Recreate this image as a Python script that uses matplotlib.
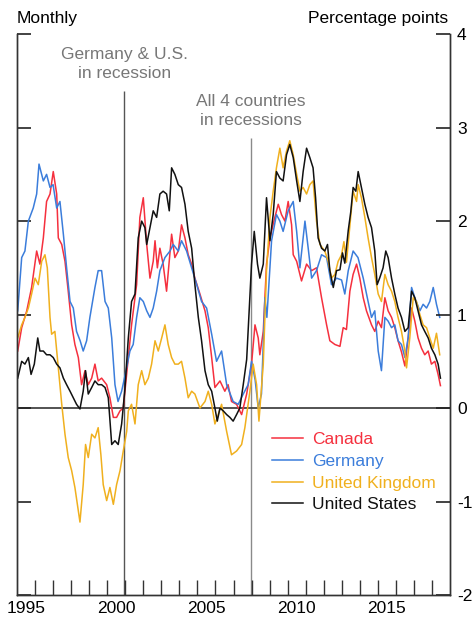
import matplotlib
matplotlib.use("Agg")
from matplotlib import pyplot as plt
from matplotlib.ticker import FixedLocator

plt.rcParams['font.family'] = ['Liberation Sans', 'DejaVu Sans']
plt.rcParams['font.size'] = 12.5

# 数据 (从图上读出来的, 月度, 百分点)
canada_x = [1995.04, 1995.26, 1995.54, 1995.81, 1996.09, 1996.27, 1996.46, 1996.64, 1996.83, 1997.01,
            1997.2, 1997.29, 1997.48, 1997.66, 1997.84, 1998.03, 1998.21, 1998.4, 1998.58, 1998.77,
            1998.95, 1999.14, 1999.32, 1999.5, 1999.69, 1999.97, 2000.15, 2000.34, 2000.52, 2000.71,
            2000.89, 2001.17, 2001.35, 2001.63, 2001.81, 2002.0, 2002.19, 2002.37, 2002.55, 2002.65,
            2002.78, 2002.92, 2003.1, 2003.29, 2003.57, 2003.75, 2003.94, 2004.12, 2004.31, 2004.49,
            2004.68, 2004.86, 2005.14, 2005.42, 2005.6, 2005.79, 2005.97, 2006.25, 2006.52, 2006.7,
            2006.89, 2007.17, 2007.45, 2007.73, 2008.0, 2008.19, 2008.37, 2008.46, 2008.65, 2008.83,
            2009.02, 2009.29, 2009.48, 2009.66, 2009.85, 2010.03, 2010.22, 2010.31, 2010.5, 2010.77,
            2011.05, 2011.33, 2011.6, 2011.88, 2012.16, 2012.34, 2012.62, 2012.9, 2013.08, 2013.26,
            2013.45, 2013.63, 2013.82, 2014.0, 2014.19, 2014.37, 2014.65, 2014.83, 2015.02, 2015.2,
            2015.39, 2015.57, 2015.76, 2015.94, 2016.12, 2016.31, 2016.5, 2016.68, 2016.87, 2017.05,
            2017.23, 2017.42, 2017.6, 2017.79, 2017.97, 2018.16, 2018.34, 2018.47]
canada_y = [0.61, 0.86, 1.04, 1.29, 1.68, 1.54, 1.82, 2.21, 2.29, 2.53,
            2.29, 1.82, 1.75, 1.57, 1.25, 0.89, 0.68, 0.54, 0.25, 0.4,
            0.25, 0.32, 0.47, 0.29, 0.32, 0.25, 0.11, -0.1, -0.1, -0.03,
            0.0, 0.54, 0.89, 1.32, 2.04, 2.25, 1.75, 1.39, 1.57, 1.79,
            1.5, 1.71, 1.54, 1.25, 1.86, 1.61, 1.68, 1.96, 1.82, 1.64,
            1.54, 1.39, 1.22, 1.04, 0.86, 0.54, 0.22, 0.29, 0.18, 0.25,
            0.07, 0.04, -0.07, 0.15, 0.47, 0.89, 0.75, 0.57, 0.82, 1.54,
            1.82, 2.04, 2.18, 2.07, 2.0, 2.21, 1.96, 1.64, 1.57, 1.36,
            1.54, 1.47, 1.5, 1.18, 0.89, 0.72, 0.68, 0.66, 0.86, 0.84,
            1.25, 1.43, 1.54, 1.39, 1.18, 1.04, 0.89, 0.82, 0.93, 0.86,
            1.18, 1.04, 0.97, 0.86, 0.72, 0.6, 0.45, 0.75, 1.07, 0.93,
            0.75, 0.64, 0.57, 0.61, 0.47, 0.5, 0.36, 0.24]

germany_x = [1995.04, 1995.26, 1995.44, 1995.63, 1995.9, 1996.09, 1996.22, 1996.46, 1996.64, 1996.83,
             1997.0, 1997.2, 1997.38, 1997.57, 1997.75, 1997.94, 1998.12, 1998.3, 1998.5, 1998.67,
             1998.86, 1999.04, 1999.32, 1999.5, 1999.69, 1999.88, 2000.06, 2000.25, 2000.43, 2000.6,
             2000.8, 2001.0, 2001.26, 2001.44, 2001.63, 2001.81, 2002.0, 2002.19, 2002.37, 2002.55,
             2002.74, 2002.92, 2003.2, 2003.48, 2003.66, 2003.94, 2004.12, 2004.4, 2004.68, 2004.96,
             2005.23, 2005.51, 2005.79, 2006.06, 2006.34, 2006.62, 2006.98, 2007.26, 2007.54, 2007.81,
             2008.0, 2008.2, 2008.37, 2008.55, 2008.74, 2008.85, 2009.11, 2009.38, 2009.57, 2009.75,
             2010.03, 2010.31, 2010.5, 2010.68, 2010.96, 2011.14, 2011.33, 2011.6, 2011.88, 2012.16,
             2012.43, 2012.71, 2012.99, 2013.17, 2013.36, 2013.63, 2013.9, 2014.19, 2014.46, 2014.65,
             2014.83, 2015.02, 2015.2, 2015.39, 2015.57, 2015.76, 2015.94, 2016.12, 2016.31, 2016.5,
             2016.68, 2016.87, 2017.05, 2017.33, 2017.51, 2017.7, 2017.88, 2018.07, 2018.25, 2018.43]
germany_y = [1.04, 1.61, 1.68, 2.0, 2.14, 2.29, 2.61, 2.43, 2.5, 2.36,
             2.39, 2.14, 2.21, 1.86, 1.5, 1.14, 1.07, 0.82, 0.72, 0.61,
             0.72, 0.97, 1.29, 1.47, 1.47, 1.14, 1.07, 0.75, 0.25, 0.07,
             0.18, 0.36, 0.61, 0.68, 0.97, 1.18, 1.14, 1.04, 0.97, 1.07,
             1.25, 1.47, 1.61, 1.68, 1.75, 1.68, 1.79, 1.68, 1.5, 1.32,
             1.14, 1.07, 0.79, 0.5, 0.61, 0.25, 0.07, 0.04, 0.15, 0.25,
             0.5, 0.3, 0.0, 0.15, 1.18, 0.97, 1.79, 2.07, 2.0, 1.89,
             2.11, 2.21, 1.89, 1.5, 2.0, 1.71, 1.39, 1.47, 1.64, 1.61,
             1.32, 1.39, 1.37, 1.22, 1.47, 1.68, 1.61, 1.39, 1.14, 0.97,
             1.04, 0.61, 0.4, 0.97, 0.93, 0.86, 0.89, 0.72, 0.68, 0.54,
             0.75, 1.29, 1.18, 1.04, 1.11, 1.07, 1.14, 1.29, 1.11, 0.97]

uk_x = [1995.04, 1995.26, 1995.44, 1995.63, 1995.81, 1996.0, 1996.18, 1996.37, 1996.55, 1996.68,
        1996.83, 1996.92, 1997.1, 1997.29, 1997.48, 1997.66, 1997.84, 1998.03, 1998.21, 1998.4,
        1998.49, 1998.67, 1998.8, 1998.95, 1999.14, 1999.32, 1999.5, 1999.65, 1999.78, 1999.97,
        2000.15, 2000.34, 2000.52, 2000.71, 2000.89, 2001.08, 2001.17, 2001.35, 2001.54, 2001.72,
        2001.91, 2002.09, 2002.28, 2002.46, 2002.65, 2002.83, 2003.02, 2003.2, 2003.38, 2003.57,
        2003.75, 2003.94, 2004.12, 2004.31, 2004.49, 2004.68, 2004.86, 2005.14, 2005.42, 2005.6,
        2005.79, 2005.97, 2006.15, 2006.34, 2006.62, 2006.89, 2007.17, 2007.45, 2007.63, 2007.91,
        2008.09, 2008.28, 2008.41, 2008.65, 2008.83, 2009.02, 2009.2, 2009.38, 2009.57, 2009.75,
        2009.94, 2010.12, 2010.31, 2010.5, 2010.68, 2010.86, 2011.05, 2011.23, 2011.41, 2011.6,
        2011.79, 2012.06, 2012.25, 2012.43, 2012.62, 2012.8, 2012.99, 2013.12, 2013.26, 2013.45,
        2013.63, 2013.82, 2013.91, 2014.09, 2014.28, 2014.46, 2014.65, 2014.83, 2015.02, 2015.2,
        2015.39, 2015.57, 2015.76, 2015.94, 2016.12, 2016.31, 2016.5, 2016.59, 2016.77, 2016.96,
        2017.14, 2017.33, 2017.51, 2017.7, 2017.88, 2018.07, 2018.25, 2018.43]
uk_y = [0.75, 0.89, 0.97, 1.07, 1.22, 1.39, 1.32, 1.57, 1.64, 1.5,
        0.97, 0.79, 0.82, 0.43, 0.04, -0.28, -0.53, -0.67, -0.85, -1.1,
        -1.22, -0.82, -0.39, -0.53, -0.28, -0.32, -0.21, -0.5, -0.82, -0.99,
        -0.85, -1.03, -0.82, -0.67, -0.46, -0.25, -0.03, 0.04, -0.17, 0.25,
        0.4, 0.25, 0.32, 0.47, 0.72, 0.61, 0.75, 0.89, 0.68, 0.54,
        0.47, 0.47, 0.5, 0.32, 0.11, 0.18, 0.15, 0.0, 0.07, 0.18,
        0.04, -0.17, -0.07, 0.04, -0.25, -0.5, -0.46, -0.39, -0.21, 0.18,
        0.47, 0.25, -0.14, 0.47, 1.47, 2.04, 2.32, 2.57, 2.78, 2.57,
        2.75, 2.86, 2.71, 2.5, 2.32, 2.36, 2.29, 2.39, 2.43, 2.0,
        1.75, 1.68, 1.57, 1.39, 1.43, 1.57, 1.64, 1.78, 1.56, 1.95,
        2.32, 2.21, 2.39, 2.25, 2.04, 1.82, 1.61, 1.43, 1.22, 1.14,
        1.43, 1.32, 1.25, 1.14, 0.97, 0.82, 0.61, 0.43, 0.75, 1.18,
        1.14, 1.0, 0.89, 0.86, 0.75, 0.64, 0.8, 0.57]

us_x = [1995.04, 1995.26, 1995.44, 1995.63, 1995.78, 1995.96, 1996.15, 1996.27, 1996.46, 1996.64,
        1996.83, 1997.01, 1997.2, 1997.38, 1997.57, 1997.75, 1997.94, 1998.12, 1998.3, 1998.49,
        1998.67, 1998.8, 1998.95, 1999.14, 1999.32, 1999.5, 1999.69, 1999.88, 2000.06, 2000.25,
        2000.43, 2000.61, 2000.8, 2000.98, 2001.17, 2001.35, 2001.54, 2001.72, 2001.91, 2002.09,
        2002.19, 2002.37, 2002.55, 2002.74, 2002.92, 2003.1, 2003.29, 2003.44, 2003.57, 2003.75,
        2003.94, 2004.12, 2004.31, 2004.49, 2004.68, 2004.86, 2005.05, 2005.23, 2005.42, 2005.6,
        2005.79, 2005.97, 2006.1, 2006.25, 2006.43, 2006.62, 2006.8, 2006.98, 2007.17, 2007.35,
        2007.54, 2007.73, 2007.85, 2008.0, 2008.15, 2008.33, 2008.46, 2008.65, 2008.83, 2009.02,
        2009.2, 2009.38, 2009.57, 2009.75, 2009.94, 2010.12, 2010.31, 2010.5, 2010.68, 2010.86,
        2011.05, 2011.23, 2011.41, 2011.55, 2011.69, 2011.88, 2012.06, 2012.21, 2012.34, 2012.53,
        2012.71, 2012.9, 2013.04, 2013.17, 2013.36, 2013.5, 2013.63, 2013.78, 2013.91, 2014.09,
        2014.28, 2014.46, 2014.65, 2014.83, 2014.96, 2015.1, 2015.29, 2015.44, 2015.57, 2015.76,
        2015.94, 2016.12, 2016.31, 2016.5, 2016.68, 2016.87, 2017.05, 2017.23, 2017.42, 2017.6,
        2017.79, 2017.97, 2018.16, 2018.34, 2018.47]
us_y = [0.32, 0.5, 0.47, 0.54, 0.36, 0.47, 0.75, 0.61, 0.61, 0.57,
        0.57, 0.54, 0.47, 0.43, 0.32, 0.25, 0.18, 0.11, 0.04, -0.01,
        0.18, 0.4, 0.15, 0.22, 0.29, 0.25, 0.25, 0.22, 0.11, -0.39,
        -0.35, -0.39, -0.17, 0.2, 0.75, 1.14, 1.22, 1.82, 2.0, 1.93,
        1.75, 1.93, 2.11, 2.04, 2.29, 2.32, 2.29, 2.11, 2.57, 2.5,
        2.39, 2.36, 2.18, 1.89, 1.71, 1.32, 0.97, 0.72, 0.4, 0.25,
        0.18, 0.0, -0.14, 0.0, -0.03, -0.07, -0.1, -0.14, -0.07, 0.0,
        0.25, 0.52, 0.97, 1.54, 1.89, 1.54, 1.39, 1.54, 2.25, 1.79,
        2.07, 2.53, 2.46, 2.43, 2.71, 2.82, 2.68, 2.43, 2.21, 2.53,
        2.78, 2.68, 2.57, 2.25, 1.82, 1.71, 1.68, 1.75, 1.47, 1.29,
        1.47, 1.48, 1.66, 1.55, 1.9, 2.1, 2.36, 2.32, 2.53, 2.36,
        2.18, 2.04, 1.93, 1.68, 1.32, 1.39, 1.5, 1.68, 1.61, 1.39,
        1.22, 1.07, 0.97, 0.82, 0.86, 1.25, 1.18, 1.04, 0.89, 0.82,
        0.75, 0.64, 0.57, 0.47, 0.32]

labels = ["Canada", "Germany", "United Kingdom", "United States"]
colors = ["#f5303e", "#3b7ddb", "#f0b01e", "#111111"]

recessions = [2000.95, 2007.95]
recession_tops = [3.39, 2.89]
recession_colors = ["#555555", "#8a8a8a"]

year_labels = ["1995", "2000", "2005", "2010", "2015"]
y_ticks = [-2, -1, 0, 1, 2, 3, 4]

fig = plt.figure(figsize=(4.76, 6.19), dpi=100)
ax = fig.add_axes([0.0357, 0.0388, 0.9097, 0.906])

# 衰退竖线
for xr, top, c in zip(recessions, recession_tops, recession_colors):
    ax.vlines(xr, -2, top, color=c, lw=1.0, zorder=1)

ax.axhline(0, color="#444444", lw=1.3, zorder=1)

series = [(canada_x, canada_y), (germany_x, germany_y), (uk_x, uk_y), (us_x, us_y)]
for (xs, ys), lab, c in zip(series, labels, colors):
    ax.plot(xs, ys, color=c, lw=1.1, label=lab, zorder=2)

ax.set_xlim(1995, 2019)
ax.set_ylim(-2, 4)

# 左边: 只有向内的刻度, 不写数字
ax.set_yticks(y_ticks)
ax.yaxis.set_ticks_position('left')
ax.tick_params(axis='y', which='major', direction='in', length=10, width=1.2,
               labelleft=False, color="#222222")

# 右边: 用 twinx 写数字
ax2 = ax.twinx()
ax2.set_ylim(-2, 4)
ax2.set_yticks(y_ticks)
ax2.set_yticklabels([str(v) for v in y_ticks])
ax2.tick_params(axis='y', direction='in', length=10, width=1.2, color="#222222", pad=5)

# 没有上边框
for a in [ax, ax2]:
    a.spines['top'].set_visible(False)
    for s in ['left', 'right', 'bottom']:
        a.spines[s].set_color("#333333")
        a.spines[s].set_linewidth(1.0)

# x轴: 年份标签放在年中间, 每年一个刻度
ax.xaxis.set_major_locator(FixedLocator([int(y) + 0.5 for y in year_labels]))
ax.set_xticklabels(year_labels)
ax.xaxis.set_minor_locator(FixedLocator(list(range(1996, 2019))))
ax.tick_params(axis='x', which='major', length=0, pad=4)
ax.tick_params(axis='x', which='minor', direction='in', length=11, width=1.0, color="#333333")

fig.text(17 / 476, 1 - 19 / 619, "Monthly", ha='left', va='center')
fig.text(448 / 476, 1 - 19 / 619, "Percentage points", ha='right', va='center')

ax.text(2000.95, 3.68, "Germany & U.S.\nin recession", ha='center', va='center',
        color="#777777", linespacing=1.35)
ax.text(2007.95, 3.18, "All 4 countries\nin recessions", ha='center', va='center',
        color="#777777", linespacing=1.35)

leg = ax.legend(loc='upper left', bbox_to_anchor=(248 / 433, (595 - 425) / 561),
                frameon=False, handlelength=1.8, handletextpad=0.5,
                labelspacing=0.38, borderaxespad=0, labelcolor=colors)

plt.savefig("out.png", dpi=100)
